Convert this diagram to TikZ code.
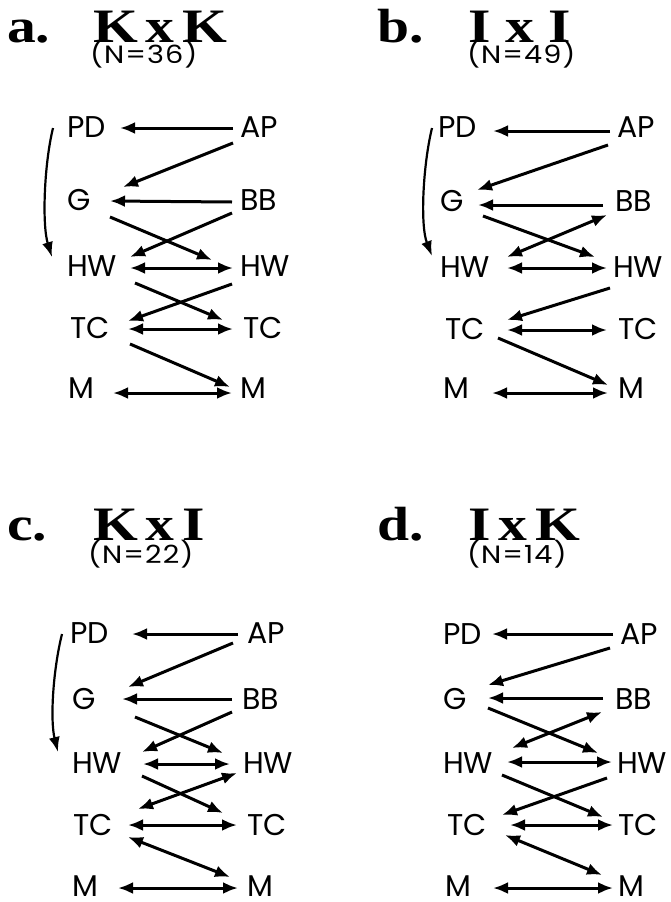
\documentclass[tikz,border=0pt]{standalone}
\usepackage{fontspec}
\usetikzlibrary{arrows.meta}
\newfontfamily\labfont{Poppins}
\newfontfamily\serifwide[FakeStretch=1.2]{Liberation Serif}
\newfontfamily\subfont[FakeStretch=1.15,LetterSpace=4]{Poppins}
\tikzset{
  lab/.style={font=\labfont\fontsize{30}{36}\selectfont, inner sep=0pt, anchor=west,
              text height=21pt, text depth=0pt},
  ttl/.style={font=\serifwide\bfseries\fontsize{48}{56}\selectfont, inner sep=0pt, anchor=base west},
  sub/.style={font=\subfont\fontsize{25}{30}\selectfont, inner sep=0pt, anchor=base west},
  link/.style={line width=3pt, -{Latex[length=15pt,width=12pt]}},
  both/.style={line width=3pt, {Latex[length=15pt,width=12pt]}-{Latex[length=15pt,width=12pt]}},
  drift/.style={line width=2.2pt, -{Latex[length=15pt,width=11pt]}}
}
\begin{document}
\begin{tikzpicture}[x=1pt,y=-1pt]
\useasboundingbox (0,0) rectangle (670,902);

% ---------- panel a ----------
\node[ttl] (ta) at (7,42) {a.};
\node[ttl] (tka) at (93,42) {K\,x\,K};
\node[sub] (na) at (90,63) {(N=36)};
\node[lab] (PDa) at (67,127) {PD};
\node[lab] (APa) at (240,127) {AP};
\node[lab] (Ga) at (67,200) {G};
\node[lab] (BBa) at (240,200) {BB};
\node[lab] (HWla) at (67,266) {HW};
\node[lab] (HWra) at (240,266) {HW};
\node[lab] (TCla) at (70,328) {TC};
\node[lab] (TCra) at (243,328) {TC};
\node[lab] (Mla) at (68,388) {M};
\node[lab] (Mra) at (240,388) {M};
\draw[link] ([shift={(-7,1)}]APa.west) -- ([shift={(53,1)}]PDa.west);
\draw[link] ([shift={(-7,16)}]APa.west) -- ([shift={(56,-13)}]Ga.west);
\draw[link] ([shift={(-8,2)}]BBa.west) -- ([shift={(43,1)}]Ga.west);
\draw[link] ([shift={(43,17)}]Ga.west) -- ([shift={(-28,-6)}]HWra.west);
\draw[link] ([shift={(-8,13)}]BBa.west) -- ([shift={(63,-9)}]HWla.west);
\draw[both] ([shift={(63,2)}]HWla.west) -- ([shift={(-7,2)}]HWra.west);
\draw[link] ([shift={(68,17)}]HWla.west) -- ([shift={(-20,-8)}]TCra.west);
\draw[link] ([shift={(-8,18)}]HWra.west) -- ([shift={(58,-7)}]TCla.west);
\draw[both] ([shift={(58,1)}]TCla.west) -- ([shift={(-10,1)}]TCra.west);
\draw[link] ([shift={(60,16)}]TCla.west) -- ([shift={(-10,-1)}]Mra.west);
\draw[both] ([shift={(45,5)}]Mla.west) -- ([shift={(-8,5)}]Mra.west);
\draw[drift] ([shift={(-14,1)}]PDa.west)
  .. controls ([shift={(-23,38)}]PDa.west) and ([shift={(-25,-41)}]HWla.west)
  .. ([shift={(-15,-9)}]HWla.west);

% ---------- panel b ----------
\node[ttl] (tb) at (377,42) {b.};
\node[ttl] (tkb) at (468,42) {I x I};
\node[sub] (nb) at (467,63) {(N=49)};
\node[lab] (PDb) at (438,127) {PD};
\node[lab] (APb) at (617,127) {AP};
\node[lab] (Gb) at (440,201) {G};
\node[lab] (BBb) at (615,201) {BB};
\node[lab] (HWlb) at (440,267) {HW};
\node[lab] (HWrb) at (613,267) {HW};
\node[lab] (TClb) at (445,329) {TC};
\node[lab] (TCrb) at (618,329) {TC};
\node[lab] (Mlb) at (443,388) {M};
\node[lab] (Mrb) at (618,388) {M};
\draw[link] ([shift={(-7,4)}]APb.west) -- ([shift={(55,4)}]PDb.west);
\draw[link] ([shift={(-9,18)}]APb.west) -- ([shift={(37,-11)}]Gb.west);
\draw[link] ([shift={(-12,4)}]BBb.west) -- ([shift={(38,4)}]Gb.west);
\draw[link] ([shift={(43,15)}]Gb.west) -- ([shift={(-18,-10)}]HWrb.west);
\draw[both] ([shift={(67,-10)}]HWlb.west) -- ([shift={(-8,14)}]BBb.west);
\draw[both] ([shift={(67,1)}]HWlb.west) -- ([shift={(-6,1)}]HWrb.west);
\draw[link] ([shift={(-3,21)}]HWrb.west) -- ([shift={(62,-9)}]TClb.west);
\draw[both] ([shift={(62,1)}]TClb.west) -- ([shift={(-11,1)}]TCrb.west);
\draw[link] ([shift={(53,9)}]TClb.west) -- ([shift={(-10,-3)}]Mrb.west);
\draw[both] ([shift={(49,5)}]Mlb.west) -- ([shift={(-10,5)}]Mrb.west);
\draw[drift] ([shift={(-6,1)}]PDb.west)
  .. controls ([shift={(-15,38)}]PDb.west) and ([shift={(-20,-42)}]HWlb.west)
  .. ([shift={(-8,-11)}]HWlb.west);

% ---------- panel c ----------
\node[ttl] (tc) at (7,540) {c.};
\node[ttl] (tkc) at (93,540) {K\,x\,I};
\node[sub] (nc) at (88,563) {(N=22)};
\node[lab] (PDc) at (70,633) {PD};
\node[lab] (APc) at (247,633) {AP};
\node[lab] (Gc) at (72,699) {G};
\node[lab] (BBc) at (242,699) {BB};
\node[lab] (HWlc) at (72,763) {HW};
\node[lab] (HWrc) at (243,763) {HW};
\node[lab] (TClc) at (73,825) {TC};
\node[lab] (TCrc) at (247,825) {TC};
\node[lab] (Mlc) at (72,886) {M};
\node[lab] (Mrc) at (247,886) {M};
\draw[link] ([shift={(-9,1)}]APc.west) -- ([shift={(62,1)}]PDc.west);
\draw[link] ([shift={(-14,10)}]APc.west) -- ([shift={(56,-12)}]Gc.west);
\draw[link] ([shift={(-10,0)}]BBc.west) -- ([shift={(50,0)}]Gc.west);
\draw[link] ([shift={(63,18)}]Gc.west) -- ([shift={(-20,-10)}]HWrc.west);
\draw[link] ([shift={(-10,13)}]BBc.west) -- ([shift={(70,-11)}]HWlc.west);
\draw[both] ([shift={(71,1)}]HWlc.west) -- ([shift={(-13,1)}]HWrc.west);
\draw[link] ([shift={(70,13)}]HWlc.west) -- ([shift={(-24,-12)}]TCrc.west);
\draw[both] ([shift={(-6,10)}]HWrc.west) -- ([shift={(65,-16)}]TClc.west);
\draw[both] ([shift={(55,0)}]TClc.west) -- ([shift={(-10,0)}]TCrc.west);
\draw[both] ([shift={(55,12)}]TClc.west) -- ([shift={(-17,-9)}]Mrc.west);
\draw[both] ([shift={(46,2)}]Mlc.west) -- ([shift={(-9,2)}]Mrc.west);
\draw[drift] ([shift={(-8,1)}]PDc.west)
  .. controls ([shift={(-17,37)}]PDc.west) and ([shift={(-22,-43)}]HWlc.west)
  .. ([shift={(-14,-11)}]HWlc.west);

% ---------- panel d ----------
\node[ttl] (td) at (377,540) {d.};
\node[ttl] (tkd) at (468,540) {I\,x\,K};
\node[sub] (nd) at (467,563) {(N=14)};
\node[lab] (PDd) at (443,634) {PD};
\node[lab] (APd) at (620,634) {AP};
\node[lab] (Gd) at (443,699) {G};
\node[lab] (BBd) at (615,699) {BB};
\node[lab] (HWld) at (443,763) {HW};
\node[lab] (HWrd) at (617,763) {HW};
\node[lab] (TCld) at (447,825) {TC};
\node[lab] (TCrd) at (618,825) {TC};
\node[lab] (Mld) at (445,886) {M};
\node[lab] (Mrd) at (618,886) {M};
\draw[link] ([shift={(-7,0)}]APd.west) -- ([shift={(49,0)}]PDd.west);
\draw[link] ([shift={(-10,14)}]APd.west) -- ([shift={(45,-14)}]Gd.west);
\draw[link] ([shift={(-12,-1)}]BBd.west) -- ([shift={(45,-1)}]Gd.west);
\draw[link] ([shift={(45,9)}]Gd.west) -- ([shift={(-19,-10)}]HWrd.west);
\draw[both] ([shift={(-13,13)}]BBd.west) -- ([shift={(69,-15)}]HWld.west);
\draw[both] ([shift={(64,-1)}]HWld.west) -- ([shift={(-5,-1)}]HWrd.west);
\draw[link] ([shift={(59,12)}]HWld.west) -- ([shift={(-15,-8)}]TCrd.west);
\draw[link] ([shift={(-10,15)}]HWrd.west) -- ([shift={(55,-10)}]TCld.west);
\draw[both] ([shift={(63,0)}]TCld.west) -- ([shift={(-5,0)}]TCrd.west);
\draw[both] ([shift={(58,10)}]TCld.west) -- ([shift={(-16,-11)}]Mrd.west);
\draw[both] ([shift={(48,2)}]Mld.west) -- ([shift={(-5,2)}]Mrd.west);
\end{tikzpicture}
\end{document}
